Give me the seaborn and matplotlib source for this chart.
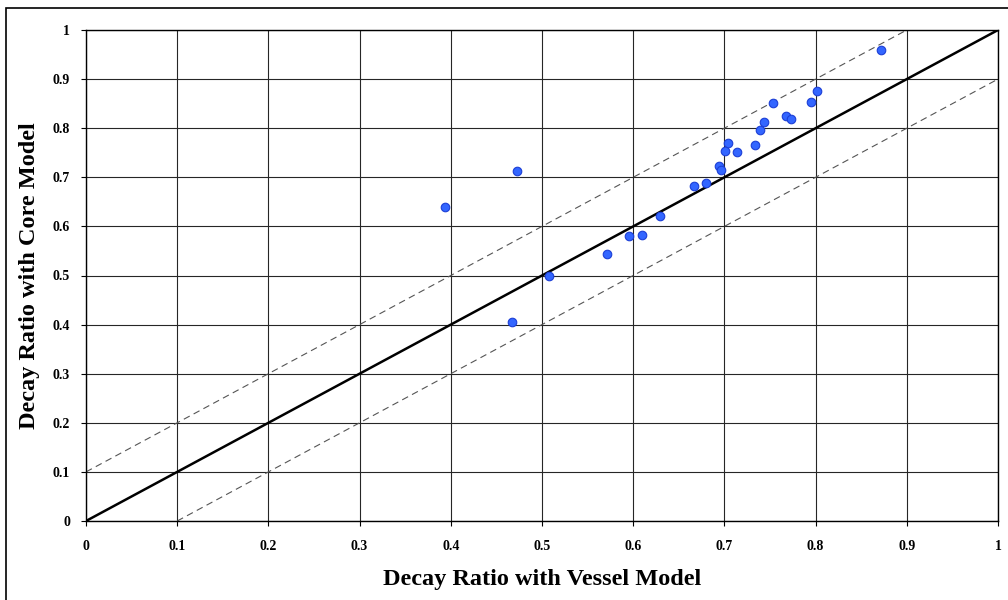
import matplotlib
matplotlib.use("Agg")
import matplotlib.pyplot as plt
import seaborn as sns
import pandas as pd
import numpy as np

# Data
vessel_dr = [0.394, 0.473, 0.467, 0.508, 0.571, 0.595, 0.610, 0.629,
             0.872, 0.801, 0.795, 0.753, 0.768, 0.773, 0.743, 0.739,
             0.734, 0.714, 0.704, 0.701, 0.694, 0.696, 0.680, 0.667]
core_dr = [0.640, 0.712, 0.406, 0.500, 0.543, 0.581, 0.582, 0.622,
           0.960, 0.876, 0.854, 0.852, 0.824, 0.818, 0.812, 0.796,
           0.765, 0.751, 0.769, 0.754, 0.722, 0.714, 0.688, 0.683]
ref_offsets = [0.0, 0.1, -0.1]
tick_values = [0, 0.1, 0.2, 0.3, 0.4, 0.5, 0.6, 0.7, 0.8, 0.9, 1]
tick_labels = ["0", "0.1", "0.2", "0.3", "0.4", "0.5", "0.6", "0.7", "0.8", "0.9", "1"]

df = pd.DataFrame({"vessel": vessel_dr, "core": core_dr})

sns.set_theme(style="white")
plt.rcParams["font.family"] = ["Liberation Serif", "DejaVu Serif"]
plt.rcParams["font.weight"] = "bold"
plt.rcParams["text.color"] = "black"
plt.rcParams["axes.labelcolor"] = "black"
plt.rcParams["xtick.color"] = "black"
plt.rcParams["ytick.color"] = "black"

fig = plt.figure(figsize=(10.08, 6.0), dpi=100)
ax = fig.add_axes([86 / 1008, 79 / 600, 912 / 1008, 491 / 600])

# figure border (only left/top visible in reference)
fig.patches.append(plt.Rectangle((6 / 1008, -0.02), 1.05, (600 - 8) / 600 + 0.02,
                                 transform=fig.transFigure, fill=False,
                                 edgecolor="black", linewidth=1.2, zorder=0))

ax.set_xlim(0, 1)
ax.set_ylim(0, 1)
ax.set_xticks(tick_values)
ax.set_yticks(tick_values)
ax.set_xticklabels(tick_labels, fontsize=10, fontweight="bold", color="black")
ax.set_yticklabels(tick_labels, fontsize=10, fontweight="bold", color="black")
ax.grid(True, color="#262626", linewidth=0.8)
ax.set_axisbelow(True)
ax.tick_params(axis="both", direction="out", length=3.5, width=0.8, color="black",
               labelcolor="black", bottom=True, left=True)
ax.tick_params(axis="x", pad=10)
ax.tick_params(axis="y", pad=8)
for sp in ax.spines.values():
    sp.set_color("black")
    sp.set_linewidth(1.0)

for off in ref_offsets:
    if off == 0:
        ax.axline((0, off), slope=1, color="black", linewidth=1.8, zorder=2)
    else:
        ax.axline((0, off), slope=1, color="#555555", linewidth=0.8,
                  linestyle=(0, (6, 4)), zorder=2)

sns.scatterplot(data=df, x="vessel", y="core", ax=ax, s=38,
                color="#3366ff", edgecolor="#1c3fd6", linewidth=0.8, zorder=3)

ax.set_xlabel("Decay Ratio with Vessel Model", fontsize=17.5, fontweight="bold",
              labelpad=12, color="black")
ax.set_ylabel("Decay Ratio with Core Model", fontsize=17.5, fontweight="bold",
              labelpad=9, color="black")

fig.savefig("out.png", dpi=100)
